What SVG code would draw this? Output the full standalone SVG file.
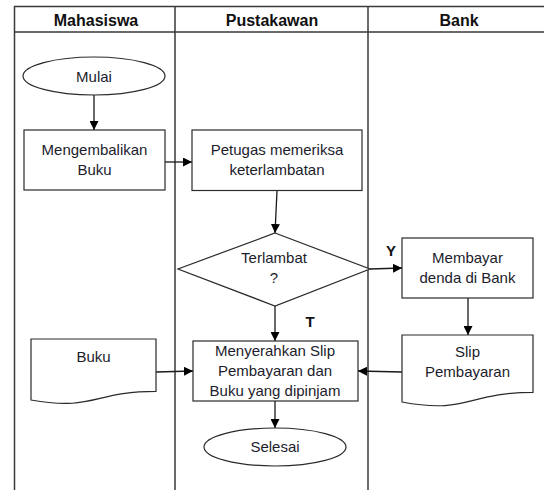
<svg xmlns="http://www.w3.org/2000/svg" width="544" height="490" viewBox="0 0 544 490">
<defs>
<marker id="ah" markerUnits="userSpaceOnUse" markerWidth="9" markerHeight="9" refX="9" refY="4.5" orient="auto">
<path d="M0,0 L9,4.5 L0,9 Z" fill="#000"/>
</marker>
<style>
.frame{fill:none;stroke:#3a3a3a;stroke-width:1.5}
.shape{fill:#fff;stroke:#2a2a2a;stroke-width:1.2}
.conn{fill:none;stroke:#1a1a1a;stroke-width:1.3;marker-end:url(#ah)}
text{font-family:"Liberation Sans",Arial,sans-serif;font-size:15px;fill:#1c1c2c;text-anchor:middle}
.hdr{font-weight:bold;font-size:16px;fill:#111}
.lbl{font-weight:bold;fill:#111}
</style>
</defs>
<rect width="544" height="490" fill="#fff"/>
<g id="lanes">
<path class="frame" d="M14.5,490 V6.5 H544 M14.5,32 H544 M175,6.5 V490 M368,6.5 V490"/>
<text class="hdr" x="96" y="25.5">Mahasiswa</text>
<text class="hdr" x="272" y="25.5">Pustakawan</text>
<text class="hdr" x="459" y="25.5">Bank</text>
</g>
<g id="connectors">
<path class="conn" d="M94,95 V130"/>
<path class="conn" d="M165,162 H192"/>
<path class="conn" d="M277,191 L275,233"/>
<path class="conn" d="M370,269 L402,268"/>
<path class="conn" d="M468,298 V335"/>
<path class="conn" d="M402,372 L358,371"/>
<path class="conn" d="M156,372 L193,371"/>
<path class="conn" d="M275,306 V341"/>
<path class="conn" d="M275,401 V428"/>
<text class="lbl" x="391" y="256">Y</text>
<text class="lbl" x="310" y="327">T</text>
</g>
<g id="mulai">
<ellipse class="shape" cx="94" cy="76" rx="71" ry="19"/>
<text x="94" y="81.5">Mulai</text>
</g>
<g id="mengembalikan">
<rect class="shape" x="24" y="130" width="141" height="60"/>
<text x="94.5" y="155">Mengembalikan</text>
<text x="94.5" y="175">Buku</text>
</g>
<g id="petugas">
<rect class="shape" x="192" y="130" width="170" height="60.5"/>
<text x="277" y="155">Petugas memeriksa</text>
<text x="277" y="175">keterlambatan</text>
</g>
<g id="terlambat">
<polygon class="shape" points="275,233 370,269 275,306 178,269"/>
<text x="274" y="263">Terlambat</text>
<text x="274" y="283">?</text>
</g>
<g id="membayar">
<rect class="shape" x="402" y="238" width="131" height="60"/>
<text x="467.5" y="263">Membayar</text>
<text x="467.5" y="283">denda di Bank</text>
</g>
<g id="slip">
<path class="shape" d="M402,335 H533 V392.4 C467.5,392.4 467.5,414.4 402,402 Z"/>
<text x="467.5" y="357">Slip</text>
<text x="467.5" y="377">Pembayaran</text>
</g>
<g id="buku">
<path class="shape" d="M31,339 H156 V391.4 C93.5,391.4 93.5,411.3 31,400 Z"/>
<text x="93.5" y="362">Buku</text>
</g>
<g id="menyerahkan">
<rect class="shape" x="193" y="341" width="165" height="60"/>
<text x="275" y="356">Menyerahkan Slip</text>
<text x="275" y="376">Pembayaran dan</text>
<text x="275" y="395.5">Buku yang dipinjam</text>
</g>
<g id="selesai">
<ellipse class="shape" cx="275" cy="447" rx="71" ry="19"/>
<text x="275" y="452">Selesai</text>
</g>
</svg>
